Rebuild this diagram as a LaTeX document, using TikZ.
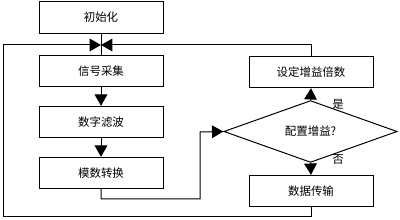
\documentclass[tikz,border=0pt]{standalone}
\usepackage{fontspec}
\setmainfont{Noto Sans CJK SC}
\usetikzlibrary{shapes.geometric,arrows.meta}
\begin{document}
\begin{tikzpicture}[x=0.75pt,y=-0.75pt,
  font=\fontsize{8.6pt}{10pt}\selectfont,
  every node/.style={inner sep=0pt},
  box/.style={draw,line width=0.75pt,minimum width=93pt,minimum height=23.5pt},
  dec/.style={draw,diamond,line width=0.75pt,minimum width=130pt,minimum height=31pt},
  ln/.style={line width=0.75pt},
  arr/.style={ln,-{Triangle[width=9.5pt,length=8.5pt]}}]
\useasboundingbox (0,0) rectangle (400,220);
\node[box] (init) at (101,17.5) {初始化};
\node[box] (collect) at (101,71) {信号采集};
\node[box] (filter) at (101,122) {数字滤波};
\node[box] (adc) at (101,173) {模数转换};
\node[box] (setg) at (311,72) {设定增益倍数};
\node[dec] (cfg) at (310.5,131.5) {配置增益?};
\node[box] (trans) at (311,191) {数据传输};
\coordinate (j) at (101,45);
\node (yes) at (338,104) {是};
\node (no) at (338,159) {否};
\draw[ln] (init.south) -- (collect.north);
\draw[arr] (setg.north) |- (j);
\draw[arr] (trans.south) -- (trans.south |- 0,217) -- (3,217) -- (3,45) -- (j);
\draw[arr] (collect) -- (filter);
\draw[arr] (filter) -- (adc);
\draw[arr] (adc.south) -- (adc.south |- 0,199) -- (200,199) -- (200,132) -- (cfg.west);
\draw[arr] (cfg.north) -- (setg.south);
\draw[arr] (cfg.south) -- (trans.north);
\end{tikzpicture}
\end{document}
